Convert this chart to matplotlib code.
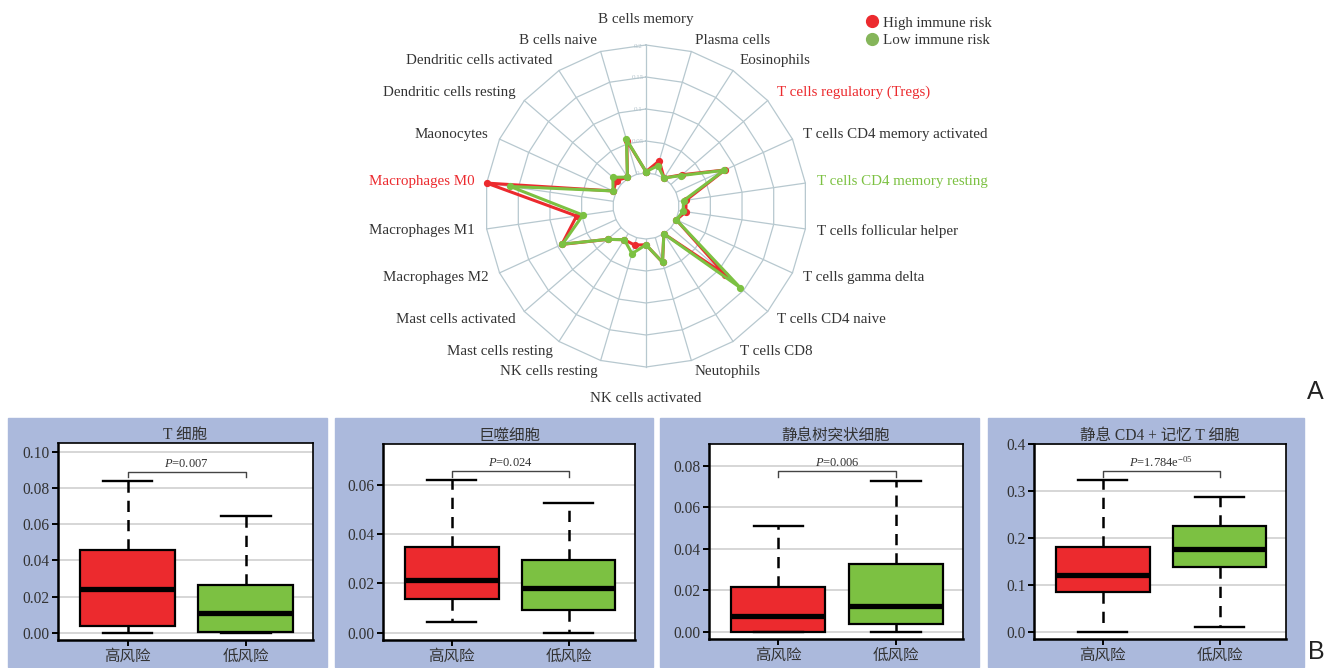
import numpy as np
import matplotlib
matplotlib.use("Agg")
import matplotlib.pyplot as plt
from matplotlib.lines import Line2D
from matplotlib.patches import Rectangle

plt.rcParams['font.family'] = ['Liberation Serif', 'Noto Sans CJK SC', 'DejaVu Sans']
plt.rcParams['mathtext.fontset'] = 'custom'
plt.rcParams['mathtext.rm'] = 'Liberation Serif'
plt.rcParams['mathtext.it'] = 'Liberation Serif:italic'

# ---------------- data: immune cell infiltration (radar) ----------------
cell_types = [
    "B cells memory", "Plasma cells", "Eosinophils", "T cells regulatory (Tregs)",
    "T cells CD4 memory activated", "T cells CD4 memory resting",
    "T cells follicular helper", "T cells gamma delta", "T cells CD4 naive",
    "T cells CD8", "Neutophils", "NK cells activated", "NK cells resting",
    "Mast cells resting", "Mast cells activated", "Macrophages M2",
    "Macrophages M1", "Macrophages M0", "Maonocytes", "Dendritic cells resting",
    "Dendritic cells activated", "B cells naive",
]
high_risk = [0.002, 0.022, 0.0005, 0.023, 0.084, 0.0116, 0.0114, 0.0005, 0.112,
             0.0, 0.040, 0.009, 0.012, 0.011, 0.028, 0.093, 0.058, 0.200,
             0.005, 0.009, 0.002, 0.055]
low_risk = [0.002, 0.014, 0.0005, 0.021, 0.083, 0.0077, 0.007, 0.0005, 0.143,
            0.0, 0.040, 0.009, 0.026, 0.011, 0.028, 0.092, 0.048, 0.163,
            0.005, 0.017, 0.002, 0.057]
radar_ticks = [0, 0.05, 0.1, 0.15, 0.2]
radar_tick_labels = ["0", "0.05", "0.1", "0.15", "0.2"]
highlight_high = ["T cells regulatory (Tregs)", "Macrophages M0"]
highlight_low = ["T cells CD4 memory resting"]

# ---------------- data: box plots ----------------
groups = ["高风险", "低风险"]
panel_titles = ["T 细胞", "巨噬细胞", "静息树突状细胞", "静息 CD4 + 记忆 T 细胞"]
# (whislo, q1, median, q3, whishi)
high_stats = [
    (0.0, 0.004, 0.024, 0.0457, 0.084),
    (0.0042, 0.0136, 0.0214, 0.0349, 0.0619),
    (0.0, 0.0, 0.0076, 0.0214, 0.051),
    (0.0, 0.0846, 0.1215, 0.1806, 0.3226),
]
low_stats = [
    (0.0, 0.0004, 0.0107, 0.0264, 0.0646),
    (0.0, 0.009, 0.0181, 0.0296, 0.0529),
    (0.0, 0.0036, 0.0124, 0.0328, 0.0729),
    (0.01, 0.138, 0.1755, 0.226, 0.2872),
]
p_labels = [r"$P$=0.007", r"$P$=0.024", r"$P$=0.006", r"$P$=1.784e$^{-05}$"]
y_ticks = [
    [0.0, 0.02, 0.04, 0.06, 0.08, 0.10],
    [0.0, 0.02, 0.04, 0.06],
    [0.0, 0.02, 0.04, 0.06, 0.08],
    [0.0, 0.1, 0.2, 0.3, 0.4],
]
y_tick_labels = [
    ["0.00", "0.02", "0.04", "0.06", "0.08", "0.10"],
    ["0.00", "0.02", "0.04", "0.06"],
    ["0.00", "0.02", "0.04", "0.06", "0.08"],
    ["0.0", "0.1", "0.2", "0.3", "0.4"],
]

RED = "#ec2a2e"
GREEN = "#7cc142"
GRID = "#b7c8cf"
TEXT = "#333333"
PANEL_BG = "#abb9dc"

W, H = 1339, 668
fig = plt.figure(figsize=(W / 100, H / 100), dpi=100)


def fx(px):
    return px / W


def fy(py):
    return 1 - py / H


# ---------------- radar chart ----------------
cx, cy, R = 646, 206, 161
ax = fig.add_axes([fx(cx - R), fy(cy + R), fx(2 * R), (2 * R) / H], projection="polar")
ax.set_theta_zero_location("N")
ax.set_theta_direction(-1)
hole = 0.0516
ax.set_ylim(0, 0.2)
ax.set_rorigin(-hole)
ax.axis("off")

n = len(cell_types)
theta = np.arange(n) * 2 * np.pi / n
theta_c = np.append(theta, theta[0])

for v in radar_ticks:
    ax.plot(theta_c, np.full(n + 1, v), color=GRID, lw=0.9, zorder=1, clip_on=False)
for t in theta:
    ax.plot([t, t], [0, radar_ticks[-1]], color=GRID, lw=0.9, zorder=1, clip_on=False)
for v, lab in zip(radar_ticks, radar_tick_labels):
    ax.annotate(lab, xy=(0, v), xytext=(-8, -1), textcoords="offset pixels",
                ha="center", va="center", fontsize=5, color="#b4c4cc", zorder=2)

for vals, col in [(high_risk, RED), (low_risk, GREEN)]:
    v = np.append(vals, vals[0])
    ax.plot(theta_c, v, color=col, lw=2.2, marker="o", markersize=4.2, zorder=3,
            solid_joinstyle="miter", clip_on=False)

px_per_r = (0.2 + hole) / R
for t, name in zip(theta, cell_types):
    s, c = np.sin(t), np.cos(t)
    if abs(s) < 1e-6:
        ha = "center"
        rr = (187 if c > 0 else 193) * px_per_r - hole
    else:
        ha = "left" if s > 0 else "right"
        rr = 173 * px_per_r - hole
    col = TEXT
    if name in highlight_high:
        col = RED
    elif name in highlight_low:
        col = GREEN
    ax.text(t, rr, name, ha=ha, va="center", fontsize=10.8, color=col, clip_on=False)

legend_handles = [
    Line2D([], [], ls="", marker="o", markersize=8.5, color=RED),
    Line2D([], [], ls="", marker="o", markersize=8.5, color="#85b55a"),
]
fig.legend(legend_handles, ["High immune risk", "Low immune risk"],
           loc="upper left", bbox_to_anchor=(fx(866), fy(16)), frameon=False,
           fontsize=10.8, handlelength=0.8, handletextpad=0.35, labelspacing=0.3,
           borderpad=0, borderaxespad=0, labelcolor=TEXT)

fig.text(fx(1315), fy(392), "A", fontsize=18, family="Liberation Sans",
         ha="center", va="center", color="#222222")
fig.text(fx(1316), fy(652), "B", fontsize=18, family="Liberation Sans",
         ha="center", va="center", color="#222222")

# ---------------- box plots ----------------
bg_boxes = [(8, 327), (335, 653), (660, 979), (988, 1304)]
ax_boxes = [(58, 313, 443, 640), (383, 635, 444, 640), (709, 963, 444, 639),
            (1034, 1286, 444, 639)]
y_lims = [(-0.004, 0.1048), (-0.003, 0.0767), (-0.0035, 0.0905), (-0.015, 0.4)]

for i in range(4):
    x0, x1 = bg_boxes[i]
    fig.patches.append(Rectangle((fx(x0), fy(667)), fx(x1 - x0), (667 - 418) / H,
                                 transform=fig.transFigure, color=PANEL_BG,
                                 zorder=-5))
    l, r, t, b = ax_boxes[i]
    bax = fig.add_axes([fx(l), fy(b), fx(r - l), (b - t) / H])
    bax.set_zorder(2)
    stats = []
    for st in (high_stats[i], low_stats[i]):
        wl, q1, med, q3, wh = st
        stats.append(dict(whislo=wl, q1=q1, med=med, q3=q3, whishi=wh, fliers=[]))
    bp = bax.bxp(stats, positions=[1, 2], widths=0.8, capwidths=0.42,
                 patch_artist=True, showfliers=False,
                 boxprops=dict(lw=1.6, edgecolor="black"),
                 medianprops=dict(color="black", lw=3.8, solid_capstyle="butt"),
                 whiskerprops=dict(color="black", lw=1.8, ls=(0, (4.5, 3.2))),
                 capprops=dict(color="black", lw=1.7))
    for patch, col in zip(bp["boxes"], [RED, GREEN]):
        patch.set_facecolor(col)
    for w in bp["whiskers"]:
        w.set_zorder(1.5)
    bax.set_xlim(0.41, 2.57)
    bax.set_ylim(*y_lims[i])
    bax.set_yticks(y_ticks[i])
    bax.set_yticklabels(y_tick_labels[i])
    bax.set_xticks([1, 2])
    bax.set_xticklabels(groups)
    bax.yaxis.grid(True, color="#d6d6d6", lw=1.4)
    bax.set_axisbelow(True)
    bax.tick_params(axis="both", direction="out", length=4, width=1.4,
                    colors="black", labelcolor=TEXT, labelsize=11.2, pad=2)
    for name, sp in bax.spines.items():
        sp.set_color("black")
        sp.set_linewidth(1.8 if name in ("left", "bottom") else 1.2)
    bax.set_title(panel_titles[i], fontsize=11.2, color=TEXT, pad=3)

    # significance bracket
    top = y_lims[i][1]
    ymax = max(high_stats[i][4], low_stats[i][4])
    yb = ymax + 0.048 * top
    yt = yb - 0.028 * top
    bax.plot([1, 1, 2, 2], [yt, yb, yb, yt], color="#444444", lw=1.0)
    bax.annotate(p_labels[i], xy=(1.5, yb), xytext=(0, 2), textcoords="offset pixels",
                 ha="center", va="bottom", fontsize=9, color=TEXT)

fig.savefig("out.png", dpi=100, facecolor="white")
